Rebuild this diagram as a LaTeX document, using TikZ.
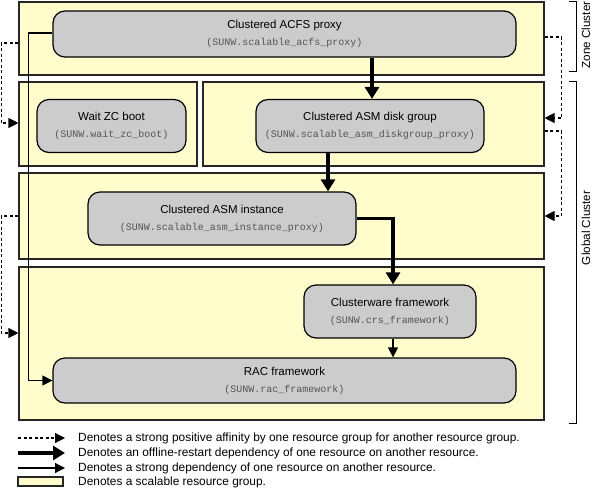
\documentclass[tikz,border=0pt]{standalone}
\usepackage{fontspec}
\setmainfont{Liberation Sans}
\newfontfamily\monof{Liberation Mono}
\usetikzlibrary{arrows.meta,calc}
\definecolor{grpfill}{HTML}{FFFDCC}
\definecolor{resfill}{HTML}{CCCCCC}
\definecolor{monocol}{HTML}{555555}
\begin{document}
\begin{tikzpicture}[x=1pt,y=-1pt,
  grp/.style={draw=black!85, line width=1.1pt, fill=grpfill, inner sep=0pt},
  res/.style={draw=black, line width=1.2pt, fill=resfill, rounded corners=12pt, inner sep=0pt, align=center, font=\fontsize{11.5}{14}\selectfont},
  thickarr/.style={line width=3.6pt, -{Triangle[length=12pt,width=14pt]}},
  thinarr/.style={line width=1.2pt, -{Triangle[length=10pt,width=10pt]}},
  dasharr/.style={line width=1.1pt, dash pattern=on 3pt off 2.5pt, -{Triangle[length=10pt,width=10pt]}},
  legtext/.style={anchor=west, inner sep=0pt, font=\fontsize{11.9}{13}\selectfont},
  clab/.style={rotate=90, inner sep=0pt, font=\fontsize{11.7}{13}\selectfont},
  brk/.style={line width=1pt}
]
\useasboundingbox (0,0) rectangle (596,498);
\newcommand{\mt}[1]{{\monof\fontsize{10}{12}\selectfont\color{monocol}#1}}
% resource groups
\node[grp, minimum width=525pt, minimum height=73pt] (gA) at (281.5,38.5) {};
\node[grp, minimum width=178pt, minimum height=84pt] (gW) at (108,124) {};
\node[grp, minimum width=341pt, minimum height=84pt] (gD) at (373.5,124) {};
\node[grp, minimum width=525pt, minimum height=86pt] (gI) at (281.5,216) {};
\node[grp, minimum width=525pt, minimum height=153pt] (gR) at (281.5,343.5) {};
% resources
\node[res, minimum width=463pt, minimum height=46pt] (acfs) at (284.5,34) {Clustered ACFS proxy\\[3pt]\mt{(SUNW.scalable\_acfs\_proxy)}};
\node[res, minimum width=149pt, minimum height=53pt] (wait) at (111.5,126) {Wait ZC boot\\[3pt]\mt{(SUNW.wait\_zc\_boot)}};
\node[res, minimum width=228pt, minimum height=53pt] (dg) at (370,126) {Clustered ASM disk group\\[3pt]\mt{(SUNW.scalable\_asm\_diskgroup\_proxy)}};
\node[res, minimum width=268pt, minimum height=53pt] (inst) at (222,218.5) {Clustered ASM instance\\[3pt]\mt{(SUNW.scalable\_asm\_instance\_proxy)}};
\node[res, minimum width=172pt, minimum height=53pt] (crs) at (390,311.5) {Clusterware framework\\[3pt]\mt{(SUNW.crs\_framework)}};
\node[res, minimum width=463pt, minimum height=45pt] (rac) at (284.5,380.5) {RAC framework\\[3pt]\mt{(SUNW.rac\_framework)}};
% offline-restart dependencies
\draw[thickarr] ([xshift=87.5pt]acfs.south) coordinate (t1) -- (t1 |- dg.north);
\draw[thickarr] ([xshift=-42pt]dg.south) coordinate (t2) -- (t2 |- inst.north);
\draw[thickarr] (inst.east) -| ([xshift=3pt]crs.north);
% strong dependencies
\draw[thinarr] ([xshift=3pt]crs.south) coordinate (t3) -- (t3 |- rac.north);
\draw[thinarr] ([yshift=1pt]acfs.west) -- ++(-24,0) |- (rac.west);
% strong positive affinities
\draw[dasharr] ([yshift=-4.5pt]gA.west) -- ++(-17,0) |- ([yshift=1pt]gW.west);
\draw[dasharr] (gI.west) -- ++(-17,0) |- ([yshift=10.5pt]gR.west);
\draw[dasharr] ([yshift=1.5pt]gA.east) -- ++(17,0) |- ([yshift=6pt]gD.east);
\draw[dasharr] ([yshift=-7pt]gD.east) -- ++(17,0) |- (gI.east);
% cluster brackets
\draw[brk] (569,1) -- (576,1) -- (576,71) -- (569,71);
\draw[brk] (569,81) -- (576,81) -- (576,423) -- (569,423);
\node[clab] (zc) at (586,35) {Zone Cluster};
\node[clab] (gc) at (586,228) {Global Cluster};
% legend
\coordinate (l1a) at (18,438); \coordinate (l1b) at (65,438);
\coordinate (l2a) at (18,453); \coordinate (l2b) at (65,453);
\coordinate (l3a) at (18,468); \coordinate (l3b) at (65,468);
\draw[dasharr] (l1a) -- (l1b);
\draw[thickarr] (l2a) -- (l2b);
\draw[thinarr] (l3a) -- (l3b);
\node[grp, minimum width=45pt, minimum height=9pt] (l4) at (40.5,481.5) {};
\node[legtext] (t1l) at (78,438) {Denotes a strong positive affinity by one resource group for another resource group.};
\node[legtext] (t2l) at (78,453) {Denotes an offline-restart dependency of one resource on another resource.};
\node[legtext] (t3l) at (78,468) {Denotes a strong dependency of one resource on another resource.};
\node[legtext] (t4l) at (78,482) {Denotes a scalable resource group.};
\end{tikzpicture}
\end{document}
